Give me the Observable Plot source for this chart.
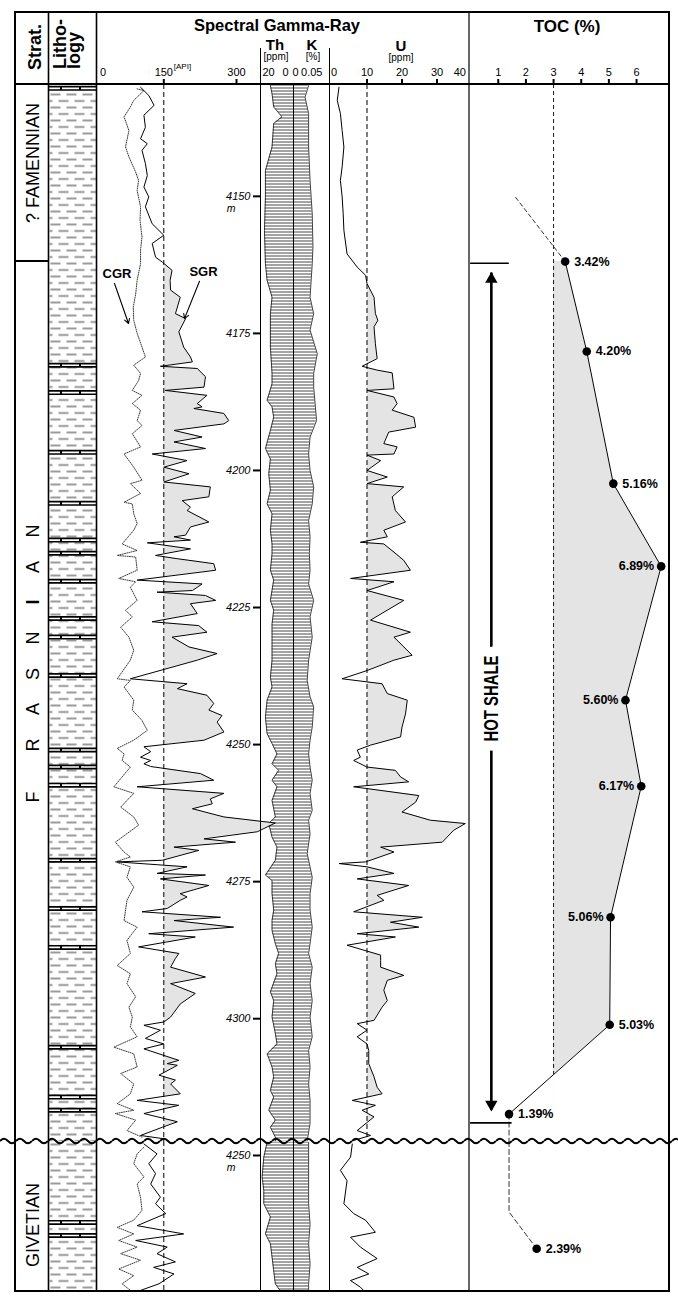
<!DOCTYPE html>
<html><head><meta charset="utf-8">
<script src="https://cdn.jsdelivr.net/npm/d3@7"></script>
<script src="https://cdn.jsdelivr.net/npm/@observablehq/plot@0.6"></script>
<style>
body{margin:0;background:#fff;}
#root{position:relative;width:678px;height:1312px;overflow:hidden;background:#fff;font-family:"Liberation Sans",Arial,sans-serif;}
</style></head><body><div id="root"></div>
<script>
// ---------------- DATA ----------------
const depthTicks = [4150, 4175, 4200, 4225, 4250, 4275, 4300];
const depthTicksLower = [4250];
const grTicks = [150, 300];
const uTicks = [10, 20, 30];
const tocTicks = [1, 2, 3, 4, 5, 6];
const grCutoff = 150, uCutoff = 10, tocCutoff = 3;

// spectral gamma ray (API), upper section [depth m, value]
const sgrUpper = [[4130.1,102],[4131.6,119],[4133.4,130],[4135.2,109],[4137.4,112],[4139.5,102],[4140.4,116],[4141.6,105],[4144.0,112],[4146.2,116],[4148.3,109],[4150.1,119],[4151.9,112],[4155.0,126],[4157.1,150],[4158.6,126],[4161.1,133],[4162.0,147],[4163.5,167],[4165.3,163],[4167.1,164],[4168.4,184],[4171.4,174],[4172.3,195],[4174.7,181],[4177.5,191],[4179.3,205],[4180.2,209],[4181.0,143],[4181.4,219],[4182.9,236],
[4184.8,233],[4185.4,153],[4186.3,239],[4187.8,219],[4188.4,229],[4188.7,212],[4189.6,274],[4190.9,284],[4191.5,274],[4192.7,171],[4193.9,229],[4194.8,171],[4196.0,236],[4197.0,126],[4198.2,198],[4199.4,150],[4200.6,202],[4202.1,150],[4203.0,246],[4204.8,243],[4205.5,188],[4206.7,205],[4207.3,198],[4209.4,243],[4210.3,205],[4211.8,195],[4212.1,171],[4212.7,205],[4213.2,116],[4214.3,205],[4215.5,133],[4216.1,178],[4217.0,253],[4218.2,257],[4220.0,95],[4220.7,229],[4221.9,209],[4222.2,136],[4222.8,236],[4223.7,257],[4224.3,205],[4226.1,219],[4227.6,126],[4228.3,222],[4229.5,239],[4230.4,167],[4232.2,202],[4233.4,260],
[4234.6,219],[4238.0,81],[4238.9,198],[4239.8,178],[4241.0,239],[4242.5,253],[4243.7,243],[4244.7,270],[4245.9,260],[4247.7,274],[4249.2,233],[4250.4,109],[4251.3,123],[4252.3,102],[4252.9,123],[4253.5,109],[4254.0,123],[4255.3,226],[4256.5,253],[4257.7,95],[4258.9,274],[4259.9,246],[4260.8,250],[4261.7,209],[4263.2,274],[4264.3,380],[4265.9,343],[4267.2,233],[4267.8,298],[4268.7,171],[4269.3,222],[4271.1,147],[4271.4,54],[4272.3,198],[4273.5,136],[4273.8,236],[4274.5,143],[4275.7,243],[4277.2,184],[4277.8,198],[4278.4,184],[4279.9,157],[4280.5,105],[4281.5,267],[4282.1,171],[4283.3,294],[4284.5,119],[4285.1,215],[4286.9,98],[4288.1,181],[4289.0,174],
[4290.6,164],[4292.4,236],[4293.6,164],[4295.4,215],[4297.3,184],[4299.7,164],[4300.6,150],[4301.2,109],[4302.1,143],[4303.6,112],[4304.6,150],[4305.5,109],[4307.6,181],[4308.2,157],[4308.5,178],[4310.3,140],[4311.2,174],[4311.9,164],[4313.7,184],[4314.9,95],[4315.8,181],[4317.3,109],[4318.8,178],[4319.8,147],[4321.3,102],[4321.9,150]];

// computed gamma ray (API), upper section
const cgrUpper = [[4130.4,95],[4130.7,109],[4132.5,88],[4133.7,81],[4135.5,68],[4138.0,78],[4141.0,71],[4142.8,78],[4145.6,92],[4147.1,98],[4148.9,95],[4151.9,102],[4154.4,101],[4157.4,105],[4159.8,102],[4162.3,102],[4165.3,95],[4167.8,92],[4170.2,87],[4172.6,88],[4175.0,95],[4177.5,105],[4179.3,112],[4180.8,88],[4182.3,102],
[4183.6,98],[4185.4,85],[4186.3,105],[4187.8,85],[4189.0,102],[4190.9,95],[4191.8,105],[4193.3,85],[4195.7,102],[4197.0,68],[4199.4,88],[4201.8,105],[4202.4,81],[4204.2,102],[4205.8,68],[4206.1,85],[4207.9,88],[4209.7,95],[4210.9,88],[4213.4,64],[4214.6,95],[4215.5,54],[4215.8,92],[4218.2,95],[4219.7,57],[4220.3,92],[4221.3,81],[4223.7,95],[4225.5,71],[4226.7,85],[4228.6,61],[4230.4,78],[4232.8,88],
[4234.6,81],[4238.0,54],[4238.3,81],[4239.5,68],[4241.9,88],[4243.7,85],[4245.6,105],[4247.4,116],[4249.2,88],[4250.7,54],[4251.7,68],[4252.9,64],[4254.1,81],[4257.7,47],[4258.9,88],[4261.4,61],[4263.2,88],[4264.7,98],[4267.8,50],[4269.6,68],[4270.5,81],[4271.4,50],[4272.3,81],[4274.2,74],[4276.0,88],[4278.4,74],[4282.1,68],[4283.3,95],[4285.7,74],[4288.1,81],
[4290.3,54],[4291.8,81],[4293.6,74],[4296.0,92],[4297.9,78],[4299.7,85],[4301.5,81],[4303.3,95],[4305.2,47],[4306.4,88],[4308.8,95],[4310.0,61],[4311.9,88],[4313.7,81],[4315.5,54],[4316.7,88],[4317.3,50],[4318.5,92],[4320.4,74],[4321.6,105]];

// thorium (ppm), upper section
const thUpper = [[4129.8,14],[4131.3,13],[4133.7,12],[4135.5,7],[4136.7,12],[4141.0,13],[4145.3,17],[4150.1,17],[4156.2,17.6],[4162.3,17],[4165.3,16],[4168.4,13],[4171.4,14],[4177.5,14],[4182.3,13],[4184.2,13],[4187.2,16],[4188.4,13],[4190.3,12],[4192.7,14],[4196.0,17],[4197.9,14],[4200.6,15],[4203.6,14],[4206.1,16],[4207.9,13],[4210.9,14],[4213.4,13],[4215.2,13],[4218.2,14],[4220.0,12],[4223.7,14],[4225.5,12],[4228.0,13],[4230.4,13],[4234.6,13],[4237.7,14],[4239.5,13],[4241.9,16],[4245.0,17],[4248.0,16],[4249.8,13],[4251.7,10],[4253.5,13],[4254.7,9],[4256.5,13],[4257.7,10],[4260.2,13],[4263.2,11],[4264.4,15],[4266.9,13],[4268.7,10],[4271.1,11],[4273.8,17],[4274.8,13],[4277.2,13],[4280.2,12],[4282.1,13],[4283.9,13],[4286.3,11],[4288.1,9],[4290.0,11],[4291.8,10],[4295.1,14],[4296.7,12],[4299.7,13],[4302.7,11],[4304.6,10],[4306.4,16],[4308.8,13],[4310.6,12],[4313.1,14],[4314.3,12],[4316.7,15],[4318.5,11],[4319.8,14],[4321.6,11],[4322.3,11]];

// potassium (%), upper section
const kUpper = [[4129.8,0.021],[4131.9,0.016],[4134.9,0.021],[4141.0,0.021],[4147.1,0.023],[4153.2,0.026],[4159.2,0.027],[4162.3,0.026],[4168.4,0.023],[4171.4,0.028],[4174.4,0.023],[4178.7,0.033],[4182.3,0.028],[4184.8,0.028],[4187.8,0.030],[4190.9,0.032],[4193.9,0.023],[4197.0,0.021],[4200.0,0.023],[4203.0,0.028],[4206.1,0.026],[4209.1,0.021],[4212.1,0.023],[4215.2,0.022],[4218.2,0.023],[4220.7,0.021],[4223.7,0.028],[4226.7,0.023],[4230.4,0.026],[4234.6,0.021],[4238.3,0.019],[4241.3,0.023],[4243.1,0.028],[4246.8,0.026],[4249.2,0.023],[4251.7,0.021],[4254.1,0.023],[4256.5,0.026],[4258.9,0.023],[4262.0,0.026],[4263.8,0.021],[4266.3,0.023],[4269.9,0.019],[4272.3,0.023],[4274.2,0.026],[4277.2,0.023],[4280.2,0.023],[4283.3,0.026],[4286.3,0.023],[4288.1,0.021],[4290.6,0.026],[4293.6,0.023],[4296.7,0.026],[4299.7,0.023],[4303.3,0.026],[4305.8,0.021],[4308.8,0.023],[4311.9,0.021],[4314.9,0.023],[4319.1,0.023],[4322.3,0.019]];

// uranium (ppm), upper section
const uUpper = [[4130.1,2.0],[4132.5,1.5],[4134.9,2.4],[4138.0,2.9],[4141.0,3.4],[4144.6,2.9],[4147.1,2.4],[4150.1,2.9],[4153.2,3.2],[4156.2,3.4],[4160.5,4.3],[4162.9,7.2],[4164.4,9.6],[4165.9,10.0],[4168.4,12.0],[4171.4,12.4],[4172.6,13.1],[4173.8,12.0],[4176.9,12.4],[4179.6,12.9],[4181.0,8.6],[4181.7,12.9],[4182.2,17.2],
[4185.1,17.7],[4185.4,10.0],[4186.6,17.7],[4187.8,18.6],[4189.0,17.2],[4190.3,23.4],[4192.1,23.9],[4193.0,16.2],[4195.1,14.8],[4195.7,18.6],[4197.0,17.7],[4197.2,10.0],[4198.2,13.9],[4200.0,10.0],[4201.2,15.8],[4202.4,10.0],[4203.0,20.5],[4204.8,17.2],[4207.3,18.1],[4209.4,21.0],[4210.9,14.8],[4212.1,15.8],[4213.1,8.1],[4213.4,14.8],[4214.9,17.7],[4216.4,20.5],[4218.2,22.4],[4219.7,5.3],[4220.3,17.7],[4221.9,10.0],[4223.7,20.5],[4227.3,11.0],[4229.5,22.4],[4230.4,17.7],[4233.7,22.9],
[4234.6,17.7],[4236.5,10.0],[4238.0,2.9],[4238.9,14.3],[4240.7,15.8],[4241.9,21.5],[4244.4,21.0],[4246.8,20.0],[4248.6,19.6],[4250.1,11.0],[4251.0,7.2],[4252.3,8.1],[4252.9,6.2],[4254.1,10.0],[4254.7,18.1],[4255.9,19.6],[4256.8,21.9],[4257.7,6.2],[4259.3,24.8],[4260.5,23.9],[4262.3,20.0],[4263.8,28.1],[4264.4,38.1],[4265.6,34.8],[4267.8,31.5],[4268.7,13.9],[4269.6,17.7],[4271.4,9.6],[4271.7,2.0],[4272.3,10.0],[4273.5,17.7],[4274.5,7.2],[4275.7,21.9],[4277.5,12.9],[4278.4,14.8],[4280.5,6.2],[4281.5,25.8],[4282.4,16.7],[4283.3,24.8],[4284.5,7.2],[4285.1,18.1],[4286.6,4.3],[4288.4,13.9],
[4289.4,13.9],[4290.6,13.9],[4292.1,20.5],[4293.0,15.8],[4294.8,14.8],[4296.7,15.8],[4297.9,14.3],[4300.3,12.0],[4300.9,7.2],[4302.1,10.0],[4303.3,7.2],[4304.6,10.0],[4305.8,10.5],[4308.2,10.5],[4310.6,12.0],[4312.5,12.9],[4313.7,14.3],[4314.9,5.8],[4315.8,12.4],[4316.7,8.6],[4317.9,12.0],[4320.4,7.2],[4321.3,11.0],[4322.2,6.2]];

// lower (Givetian) section
const sgrLower = [[4247.9,109],[4249.7,136],[4251.5,119],[4253.3,133],[4255.2,123],[4257.6,143],[4258.8,133],[4260.6,154],[4262.8,95],[4264.3,191],[4265.5,92],[4266.7,157],[4267.9,136],[4269.4,174],[4270.4,129],[4271.6,171],[4273.4,140],[4274.6,102]];
const cgrLower = [[4248.5,109],[4249.7,95],[4251.5,88],[4253.9,109],[4255.2,95],[4257.6,102],[4260.0,105],[4261.8,88],[4263.1,54],[4264.3,88],[4265.5,57],[4266.7,95],[4267.9,61],[4269.1,102],[4270.7,57],[4271.9,88],[4273.4,64],[4274.6,81]];
const thLower = [[4247.6,16],[4250.3,18],[4253.9,19],[4256.4,18],[4258.8,18],[4261.2,14],[4264.3,17],[4266.1,14],[4268.5,13],[4271.0,12],[4273.4,11],[4274.7,8]];
const kLower = [[4247.6,0.021],[4252.1,0.021],[4255.2,0.021],[4258.8,0.021],[4262.5,0.023],[4266.1,0.021],[4269.8,0.023],[4273.4,0.021],[4274.7,0.021]];
const uLower = [[4247.9,5.8],[4250.3,5.3],[4252.7,2.4],[4254.6,4.3],[4258.8,3.4],[4260.6,6.2],[4261.8,9.6],[4264.0,12.4],[4264.9,5.3],[4266.7,8.1],[4268.8,12.9],[4270.4,7.2],[4271.6,10.5],[4272.8,5.3],[4274.0,8.1],[4274.6,9.0]];

// TOC (%)
const tocDepth = [4161.9, 4178.3, 4202.4, 4217.5, 4241.9, 4257.6, 4281.5, 4301.1, 4317.4];
const tocValue = [3.42, 4.20, 5.16, 6.89, 5.60, 6.17, 5.06, 5.03, 1.39];
const tocLowerDepth = [4267.0];
const tocLowerValue = [2.39];
const tocTrendTop = [[4150.2, 1.63], [4161.9, 3.42]];
const tocTrendLower = [[4260.3, 1.39], [4267.0, 2.39]];

// hot shale interval
const hotShale = {top: 4162.2, base: 4319.0, arrowX: 0.75, arrowTop: 4164.0, arrowBase: 4316.7, labelDepth: 4241.6};

// lithology: limestone beds within shale (depth m)
const bedsUpper = [4130.3, 4180.8, 4185.8, 4196.7, 4206.0, 4212.7, 4215.1, 4220.2, 4227.0, 4230.4, 4237.4, 4251.0, 4254.1, 4257.4, 4271.1, 4279.9, 4287.0, 4305.2, 4314.3, 4316.7];
const bedsLower = [4262.2, 4264.6];

// curve labels
const grPointers = [
  {label: "CGR", tx: 53.4, ty: 4164.2, x1: 48.3, y1: 4165.9, x2: 77.2, y2: 4173.2},
  {label: "SGR", tx: 231.9, ty: 4163.7, x1: 223.6, y1: 4165.5, x2: 192.7, y2: 4172.3}
];

// stratigraphy labels
const stratLetters = ["F","R","A","S","N","I","A","N"];

// ---------------- LAYOUT ----------------
const TOP = 84, BREAK = 1141, BOTTOM = 1291;
const yUpper = [4129.6, 4322.4], yLower = [4247.45, 4274.8];
const FONT = '"Liberation Sans", Arial, sans-serif';
const GRAY = "#e4e4e4";
const root = document.getElementById("root");

// patterns
const defsSvg = d3.select(root).append("svg").attr("width", 0).attr("height", 0).style("position", "absolute");
const defs = defsSvg.append("defs");
const hatch = defs.append("pattern").attr("id", "hatch").attr("patternUnits", "userSpaceOnUse").attr("width", 6).attr("height", 3);
hatch.append("rect").attr("width", 6).attr("height", 3).attr("fill", "white");
hatch.append("line").attr("x1", 0).attr("x2", 6).attr("y1", 1).attr("y2", 1).attr("stroke", "#333").attr("stroke-width", 0.9);
const shale = defs.append("pattern").attr("id", "shale").attr("patternUnits", "userSpaceOnUse").attr("width", 16).attr("height", 13);
shale.append("rect").attr("width", 16).attr("height", 13).attr("fill", "white");
shale.append("path").attr("d", "M1,3h10 M9,9.5h10 M-7,9.5h10").attr("stroke", "#7a7a7a").attr("stroke-width", 1.7);

let clipCount = 0;
function clipRightOf(svg, cutoff) {
  const x0 = svg.scale("x").apply(cutoff);
  const id = "clipfill" + (clipCount++);
  const ns = "http://www.w3.org/2000/svg";
  const dEl = document.createElementNS(ns, "defs");
  const cp = document.createElementNS(ns, "clipPath"); cp.setAttribute("id", id);
  const r = document.createElementNS(ns, "rect");
  r.setAttribute("x", x0); r.setAttribute("y", -10000); r.setAttribute("width", 100000); r.setAttribute("height", 30000);
  cp.appendChild(r); dEl.appendChild(cp); svg.insertBefore(dEl, svg.firstChild);
  svg.querySelectorAll(`[fill="${GRAY}"]`).forEach(el => el.setAttribute("clip-path", `url(#${id})`));
}

function track({left, width, section, x, marks}) {
  const upper = section === "upper";
  const svg = Plot.plot({
    width, height: upper ? BREAK : BOTTOM - BREAK,
    marginTop: upper ? TOP : 0, marginBottom: 0, marginLeft: 0, marginRight: 0,
    x: {...x, axis: null},
    y: {domain: upper ? yUpper : yLower, range: upper ? [TOP, BREAK] : [0, BOTTOM - BREAK], axis: null},
    style: {background: "none", overflow: "visible", fontFamily: FONT, fontSize: "11px", color: "black"},
    marks
  });
  svg.style.position = "absolute";
  svg.style.left = left + "px";
  svg.style.top = (upper ? 0 : BREAK) + "px";
  root.appendChild(svg);
  return svg;
}
const hdr = {frameAnchor: "top", lineAnchor: "bottom", dy: -9};
const D = d => d[0], V = d => d[1];

// ---- Lithology ----
for (const section of ["upper", "lower"]) {
  const beds = section === "upper" ? bedsUpper : bedsLower;
  track({left: 49, width: 47, section, x: {domain: [0, 1], range: [0, 47]}, marks: [
    Plot.frame({fill: "url(#shale)", stroke: "none"}),
    Plot.ruleY(beds, {stroke: "black", strokeWidth: 5}),
    Plot.ruleY(beds, {stroke: "white", strokeWidth: 1.6, strokeDasharray: "11,2,17,2,40"})
  ]});
}

// ---- Th / K ----
for (const section of ["upper", "lower"]) {
  const up = section === "upper";
  const th = up ? thUpper : thLower, k = up ? kUpper : kLower;
  track({left: 260, width: 33, section, x: {domain: [20, 0], range: [0, 33]}, marks: [
    Plot.areaX(th, {y: D, x1: 0, x2: V, fill: "url(#hatch)"}),
    Plot.line(th, {x: V, y: D, stroke: "#111", strokeWidth: 0.8}),
    ...(up ? [
      Plot.text([20], {x: d => d, text: d => String(d), ...hdr, textAnchor: "start", dx: 2}),
      Plot.text([0], {x: d => d, text: d => String(d), ...hdr, textAnchor: "end", dx: -5})
    ] : [])
  ]});
  track({left: 293, width: 36, section, x: {domain: [0, 0.05], range: [0, 36]}, marks: [
    Plot.areaX(k, {y: D, x1: 0, x2: V, fill: "url(#hatch)"}),
    Plot.line(k, {x: V, y: D, stroke: "#111", strokeWidth: 0.8}),
    Plot.ruleX([0], {stroke: "black", strokeWidth: 1}),
    ...(up ? [
      Plot.text([0], {x: d => d, text: d => String(d), ...hdr, textAnchor: "start", dx: -1}),
      Plot.text([0.05], {x: d => d, text: d => String(d), ...hdr, textAnchor: "end", dx: -7})
    ] : [])
  ]});
}

// ---- U ----
{
  const svg = track({left: 330, width: 139, section: "upper", x: {domain: [0, 40], range: [1.5, 141.5]}, marks: [
    Plot.areaX(uUpper, {y: D, x1: uCutoff, x2: V, fill: GRAY}),
    Plot.ruleX([uCutoff], {stroke: "black", strokeDasharray: "5,3"}),
    Plot.line(uUpper, {x: V, y: D, stroke: "black", strokeWidth: 1}),
    Plot.axisX(uTicks, {anchor: "top", tickSize: 6, tickPadding: 3, strokeWidth: 2, label: null}),
    Plot.text([0], {x: d => d, text: d => String(d), ...hdr, textAnchor: "start", dx: -1}),
    Plot.text([40], {x: d => d, text: d => String(d), ...hdr, textAnchor: "end", dx: -6})
  ]});
  clipRightOf(svg, uCutoff);
  track({left: 330, width: 139, section: "lower", x: {domain: [0, 40], range: [1.5, 141.5]}, marks: [
    Plot.line(uLower, {x: V, y: D, stroke: "black", strokeWidth: 1})
  ]});
}

// ---- TOC ----
{
  const toc = tocDepth.map((d, i) => ({depth: d, value: tocValue[i]}));
  let cross = yUpper[1];
  for (let i = 1; i < toc.length; i++) {
    const a = toc[i - 1], b = toc[i];
    if (a.value >= tocCutoff && b.value < tocCutoff) { cross = a.depth + (a.value - tocCutoff) / (a.value - b.value) * (b.depth - a.depth); break; }
  }
  const leftLabel = (d) => d.value > 5.5 || (d.value > 5.04 && d.value < 5.1);
  const svg = track({left: 469, width: 200, section: "upper", x: {domain: [0, 7], range: [1.1, 194.7]}, marks: [
    Plot.areaX(toc, {y: "depth", x1: tocCutoff, x2: "value", fill: GRAY}),
    Plot.ruleX([tocCutoff], {y1: yUpper[0], y2: cross, stroke: "black", strokeDasharray: "4,3", strokeWidth: 0.9}),
    Plot.line(tocTrendTop, {x: V, y: D, stroke: "black", strokeDasharray: "4,3", strokeWidth: 0.8}),
    Plot.line([[tocDepth[tocDepth.length - 1], tocValue[tocValue.length - 1]], [yUpper[1], tocValue[tocValue.length - 1]]], {x: V, y: D, stroke: "black", strokeDasharray: "5,3", strokeWidth: 0.8}),
    Plot.line(toc, {x: "value", y: "depth", stroke: "black", strokeWidth: 1}),
    Plot.ruleY([hotShale.top], {x1: 0, x2: 1.4, stroke: "black", strokeWidth: 1.6}),
    Plot.ruleY([hotShale.base], {x1: 0, x2: 1.5, stroke: "black", strokeWidth: 1.6}),
    Plot.ruleX([hotShale.arrowX], {y1: hotShale.arrowTop, y2: hotShale.arrowBase, stroke: "black", strokeWidth: 2.6}),
    Plot.dot([hotShale.arrowTop], {x: hotShale.arrowX, y: d => d, symbol: "triangle", r: 4.6, fill: "black", stroke: "none", dy: 6}),
    Plot.dot([hotShale.arrowBase], {x: hotShale.arrowX, y: d => d, symbol: "triangle", r: 4.6, fill: "black", stroke: "none", rotate: 180, dy: -6}),
    Plot.text(["HOT SHALE"], {x: hotShale.arrowX, y: hotShale.labelDepth, text: d => d, rotate: -90, fontSize: 21, fontWeight: "bold", fill: "black", stroke: "white", strokeWidth: 28}),
    Plot.dot(toc, {x: "value", y: "depth", r: 4.3, fill: "black"}),
    Plot.text(toc, {filter: d => !leftLabel(d), x: "value", y: "depth", text: d => d.value.toFixed(2) + "%", textAnchor: "start", dx: 9, fontSize: 12.5, fontWeight: "bold"}),
    Plot.text(toc, {filter: d => leftLabel(d), x: "value", y: "depth", text: d => d.value.toFixed(2) + "%", textAnchor: "end", dx: -7, fontSize: 12.5, fontWeight: "bold"}),
    Plot.axisX(tocTicks, {anchor: "top", tickSize: 6, tickPadding: 3, strokeWidth: 2, label: null})
  ]});
  clipRightOf(svg, tocCutoff);
  svg.querySelectorAll("text").forEach(t => { if (t.textContent === "HOT SHALE") { t.setAttribute("textLength", 86); t.setAttribute("lengthAdjust", "spacingAndGlyphs"); } });
  const tocLower = tocLowerDepth.map((d, i) => ({depth: d, value: tocLowerValue[i]}));
  track({left: 469, width: 200, section: "lower", x: {domain: [0, 7], range: [1.1, 194.7]}, marks: [
    Plot.line([[yLower[0], tocTrendLower[0][1]], ...tocTrendLower], {x: V, y: D, stroke: "black", strokeDasharray: "5,3", strokeWidth: 0.8}),
    Plot.dot(tocLower, {x: "value", y: "depth", r: 4.3, fill: "black"}),
    Plot.text(tocLower, {x: "value", y: "depth", text: d => d.value.toFixed(2) + "%", textAnchor: "start", dx: 9, fontSize: 12.5, fontWeight: "bold"})
  ]});
}

// ---- Gamma ray (drawn last so spikes overlay the Th track) ----
{
  const svg = track({left: 97, width: 163, section: "upper", x: {domain: [0, 300], range: [-6.4, 139]}, marks: [
    Plot.areaX(sgrUpper, {y: D, x1: grCutoff, x2: V, fill: GRAY}),
    Plot.ruleX([grCutoff], {stroke: "black", strokeDasharray: "5,3"}),
    Plot.line(cgrUpper, {x: V, y: D, stroke: "#222", strokeWidth: 0.9, strokeDasharray: "1,1.3"}),
    Plot.line(sgrUpper, {x: V, y: D, stroke: "black", strokeWidth: 1}),
    Plot.axisX(grTicks, {anchor: "top", tickSize: 6, tickPadding: 3, strokeWidth: 2, label: null}),
    Plot.text([0], {x: d => d, text: d => String(d), ...hdr, dx: 12}),
    Plot.text(["[API]"], {x: 150, text: d => d, frameAnchor: "top", lineAnchor: "bottom", textAnchor: "start", dx: 10, dy: -16, fontSize: 8}),
    Plot.axisY(depthTicks, {anchor: "left", dx: 163, tickSize: 7, tickPadding: 3, strokeWidth: 2, fontStyle: "italic", tickFormat: d => String(d), label: null}),
    Plot.text([depthTicks[0]], {y: d => d, text: () => "m", frameAnchor: "right", dx: -25, dy: 12, fontStyle: "italic", fontSize: 10.5}),
    Plot.arrow(grPointers, {x1: "x1", y1: "y1", x2: "x2", y2: "y2", stroke: "black", strokeWidth: 1.1, headLength: 7}),
    Plot.text(grPointers, {x: "tx", y: "ty", text: "label", fontSize: 13, fontWeight: "bold"})
  ]});
  clipRightOf(svg, grCutoff);
  track({left: 97, width: 163, section: "lower", x: {domain: [0, 300], range: [-6.4, 139]}, marks: [
    Plot.ruleX([grCutoff], {stroke: "black", strokeDasharray: "5,3"}),
    Plot.line(cgrLower, {x: V, y: D, stroke: "#222", strokeWidth: 0.9, strokeDasharray: "1,1.3"}),
    Plot.line(sgrLower, {x: V, y: D, stroke: "black", strokeWidth: 1}),
    Plot.axisY(depthTicksLower, {anchor: "left", dx: 163, tickSize: 7, tickPadding: 3, strokeWidth: 2, fontStyle: "italic", tickFormat: d => String(d), label: null}),
    Plot.text([depthTicksLower[0]], {y: d => d, text: () => "m", frameAnchor: "right", dx: -25, dy: 12, fontStyle: "italic", fontSize: 10.5})
  ]});
}

// ---------------- FRAME, HEADERS, STRAT, UNCONFORMITY ----------------
const ov = d3.select(root).append("svg").attr("width", 678).attr("height", 1312)
  .style("position", "absolute").style("left", "0px").style("top", "0px").style("font-family", FONT);
const line = (x1, y1, x2, y2, w) => ov.append("line").attr("x1", x1).attr("y1", y1).attr("x2", x2).attr("y2", y2).attr("stroke", "black").attr("stroke-width", w);
ov.append("rect").attr("x", 15).attr("y", 12).attr("width", 654).attr("height", BOTTOM - 12).attr("fill", "none").attr("stroke", "black").attr("stroke-width", 2);
line(15, TOP, 669, TOP, 2);
line(48.5, 12, 48.5, BOTTOM, 1.6);
line(96.5, 12, 96.5, BOTTOM, 1.6);
line(260.5, 48, 260.5, BOTTOM, 1);
line(329.5, 48, 329.5, BOTTOM, 1);
line(469, 12, 469, BOTTOM, 1.2);
line(15, 261, 48.5, 261, 2);

const txt = (s, x, y, {size = 11, weight = "normal", anchor = "middle", rot = 0} = {}) =>
  ov.append("text").attr("transform", `translate(${x},${y}) rotate(${rot})`).attr("text-anchor", anchor)
    .attr("font-size", size).attr("font-weight", weight).text(s);
txt("Strat.", 41, 47, {size: 18, weight: "bold", rot: -90});
txt("Litho-", 66, 69, {size: 18, weight: "bold", rot: -90, anchor: "start"});
txt("logy", 80, 69, {size: 18, weight: "bold", rot: -90, anchor: "start"});
txt("Spectral Gamma-Ray", 277, 31, {size: 16.5, weight: "bold"});
txt("Th", 275, 50, {size: 15, weight: "bold"});
txt("[ppm]", 276, 60, {size: 10});
txt("K", 312, 50, {size: 15, weight: "bold"});
txt("[%]", 313, 60, {size: 10});
txt("U", 401, 51, {size: 15, weight: "bold"});
txt("[ppm]", 401, 61, {size: 10});
txt("TOC (%)", 567, 32, {size: 17, weight: "bold"});

txt("? FAMENNIAN", 38.5, 163, {size: 18, rot: -90});
const letterY = [797, 745, 709, 674, 638, 602, 567, 531];
stratLetters.forEach((c, i) => txt(c, 38.5, letterY[i], {size: 18, rot: -90, weight: c === "I" ? "bold" : "normal"}));
txt("GIVETIAN", 38.5, 1225, {size: 18, rot: -90});

// unconformity (wavy line)
const wave = ov.append("defs").append("pattern").attr("id", "wave").attr("patternUnits", "userSpaceOnUse")
  .attr("x", 0).attr("y", BREAK - 5).attr("width", 16).attr("height", 10);
wave.append("path").attr("d", "M0,5 Q4,0.5 8,5 T16,5").attr("fill", "none").attr("stroke", "black").attr("stroke-width", 1.9);
ov.append("rect").attr("x", 0).attr("y", BREAK - 5).attr("width", 678).attr("height", 10).attr("fill", "url(#wave)");
</script></body></html>
